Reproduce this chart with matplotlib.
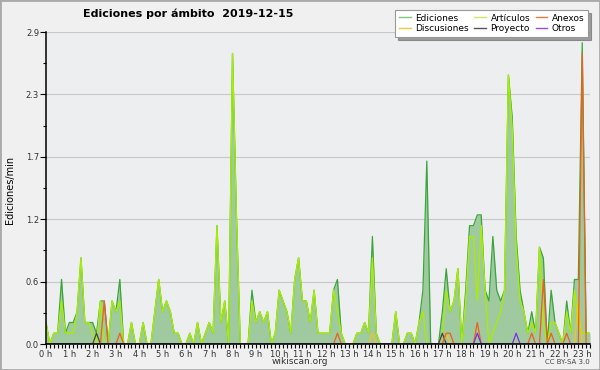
import numpy as np
import matplotlib.pyplot as plt
from matplotlib.lines import Line2D
from matplotlib.patches import Rectangle
from matplotlib.ticker import FixedLocator, MultipleLocator

# ediciones/min, un valor cada 10 minutos (141 intervalos)
ediciones = [0.2, 0.0, 0.1, 0.1, 0.6, 0.1, 0.2, 0.2, 0.3, 0.8,
             0.2, 0.2, 0.2, 0.1, 0.4, 0.4, 0.0, 0.4, 0.3, 0.6,
             0.0, 0.0, 0.2, 0.0, 0.0, 0.2, 0.0, 0.0, 0.3, 0.6,
             0.3, 0.4, 0.3, 0.1, 0.1, 0.0, 0.0, 0.1, 0.0, 0.2,
             0.0, 0.1, 0.2, 0.1, 1.1, 0.2, 0.4, 0.0, 2.7, 1.2,
             0.0, 0.0, 0.0, 0.5, 0.2, 0.3, 0.2, 0.3, 0.0, 0.1,
             0.5, 0.4, 0.3, 0.1, 0.6, 0.8, 0.4, 0.4, 0.2, 0.5,
             0.1, 0.1, 0.1, 0.1, 0.5, 0.6, 0.1, 0.0, 0.0, 0.0,
             0.1, 0.1, 0.2, 0.1, 1.0, 0.1, 0.0, 0.0, 0.0, 0.0,
             0.3, 0.0, 0.0, 0.1, 0.1, 0.0, 0.2, 0.5, 1.7, 0.0,
             0.0, 0.0, 0.3, 0.7, 0.3, 0.4, 0.7, 0.0, 0.5, 1.1,
             1.1, 1.2, 1.2, 0.5, 0.4, 1.0, 0.5, 0.4, 0.5, 2.5,
             2.1, 1.0, 0.5, 0.3, 0.1, 0.3, 0.1, 0.9, 0.8, 0.0,
             0.5, 0.2, 0.1, 0.0, 0.4, 0.1, 0.6, 0.6, 2.8, 0.1,
             0.1]
articulos = [0.2, 0.0, 0.1, 0.1, 0.4, 0.1, 0.1, 0.1, 0.3, 0.8,
             0.2, 0.2, 0.1, 0.0, 0.4, 0.0, 0.0, 0.4, 0.3, 0.4,
             0.0, 0.0, 0.2, 0.0, 0.0, 0.2, 0.0, 0.0, 0.3, 0.6,
             0.3, 0.4, 0.3, 0.1, 0.1, 0.0, 0.0, 0.1, 0.0, 0.2,
             0.0, 0.1, 0.2, 0.1, 1.1, 0.2, 0.4, 0.0, 2.7, 1.2,
             0.0, 0.0, 0.0, 0.4, 0.2, 0.3, 0.2, 0.3, 0.0, 0.1,
             0.5, 0.4, 0.3, 0.1, 0.6, 0.8, 0.4, 0.4, 0.2, 0.5,
             0.1, 0.1, 0.1, 0.1, 0.5, 0.3, 0.1, 0.0, 0.0, 0.0,
             0.1, 0.1, 0.2, 0.1, 0.8, 0.1, 0.0, 0.0, 0.0, 0.0,
             0.3, 0.0, 0.0, 0.1, 0.1, 0.0, 0.2, 0.3, 0.0, 0.0,
             0.0, 0.0, 0.1, 0.5, 0.3, 0.4, 0.7, 0.0, 0.4, 1.0,
             1.0, 0.4, 1.1, 0.5, 0.0, 0.1, 0.2, 0.3, 0.5, 2.5,
             2.0, 0.9, 0.4, 0.3, 0.1, 0.2, 0.1, 0.9, 0.2, 0.0,
             0.2, 0.2, 0.1, 0.0, 0.3, 0.1, 0.5, 0.2, 0.1, 0.1,
             0.1]
# series casi vacias: {intervalo: valor}
anexos = {15: 0.4, 19: 0.1, 75: 0.1, 103: 0.1, 104: 0.1, 111: 0.2,
          125: 0.1, 128: 0.6, 130: 0.1, 134: 0.1, 138: 2.7}
discusiones = {84: 0.1, 103: 0.1, 137: 0.4}
proyecto = {13: 0.1, 102: 0.1}
otros = {111: 0.1, 121: 0.1}

horas = list(range(24))
y_max = 2.9

n = len(ediciones)
t = np.arange(n) / 6.0


def completar(d):
    v = np.zeros(n)
    for k, val in d.items():
        v[k] = val
    return v


fig = plt.figure(figsize=(6, 3.7), dpi=100, facecolor='#f0f0f0')
ax = fig.add_axes([46 / 600, 1 - 344 / 370, 544 / 600, 312 / 370])
ax.set_facecolor('#edeef0')

ax.fill_between(t, ediciones, color='#9fc99f', lw=0, zorder=2)
ax.plot(t, ediciones, color='#3aa63a', lw=0.9, zorder=3)
ax.plot(t, articulos, color='#a8ec08', lw=1.0, zorder=4)
ax.plot(t, completar(discusiones), color='#f5c518', lw=0.9, zorder=5)
ax.plot(t, completar(proyecto), color='#444444', lw=0.9, zorder=5)
ax.plot(t, completar(anexos), color='#f06018', lw=0.9, zorder=6)
ax.plot(t, completar(otros), color='#7a2ee0', lw=0.9, zorder=6)

ax.set_xlim(0, t[-1])
ax.set_ylim(0, y_max)

yt = np.linspace(0, y_max, 6)
ax.yaxis.set_major_locator(FixedLocator(yt))
ax.yaxis.set_minor_locator(FixedLocator((yt[:-1] + yt[1:]) / 2))
ax.set_yticklabels(['%.1f' % v for v in yt])
ax.set_xticks(horas)
ax.set_xticklabels(['%d h' % h for h in horas])
ax.xaxis.set_minor_locator(MultipleLocator(1 / 6))

ax.tick_params(axis='both', which='both', direction='out', color='black',
               labelsize=6, labelcolor='#333333', width=0.8)
ax.tick_params(axis='y', which='major', length=4, pad=1)
ax.tick_params(axis='y', which='minor', length=2.5)
ax.tick_params(axis='x', which='both', length=3, pad=1)

ax.grid(axis='y', color='#c8c8c8', lw=0.8, zorder=1)
ax.set_axisbelow(True)
for s in ['top', 'right']:
    ax.spines[s].set_visible(False)
for s in ['left', 'bottom']:
    ax.spines[s].set_linewidth(1.1)
    ax.spines[s].set_zorder(10)

# leyenda
nombres = ['Ediciones', 'Discusiones', 'Artículos', 'Proyecto', 'Anexos', 'Otros']
colores = ['#80c880', '#f5c83a', '#c8ec60', '#555555', '#f07840', '#9050e8']
handles = [Line2D([], [], color=c, lw=1.0) for c in colores]
leg = fig.legend(handles, nombres, loc='upper right',
                 bbox_to_anchor=(588 / 600, 1 - 10 / 370), ncol=3, fontsize=6.5,
                 frameon=True, fancybox=False, shadow=True, edgecolor='#999999',
                 facecolor='white', framealpha=1, handlelength=1.3,
                 handletextpad=0.5, columnspacing=0.6, borderpad=0.4,
                 labelspacing=0.2, borderaxespad=0)
leg.get_frame().set_linewidth(0.8)

fig.text(188 / 600, 1 - 14 / 370, 'Ediciones por ámbito  2019-12-15',
         ha='center', va='center', fontsize=8, fontweight='bold')
fig.text(10 / 600, 1 - 190 / 370, 'Ediciones/min', rotation=90,
         ha='center', va='center', fontsize=7)
fig.text(300 / 600, 1 - 362 / 370, 'wikiscan.org', ha='center', va='center',
         fontsize=6.5, color='#333333')
fig.text(590 / 600, 1 - 362 / 370, 'CC BY-SA 3.0', ha='right', va='center',
         fontsize=5, color='#444444')

fig.patches.append(Rectangle((0, 0), 1, 1, transform=fig.transFigure,
                             fill=False, edgecolor='#aaaaaa', lw=2))

fig.savefig('out.png', dpi=100, facecolor=fig.get_facecolor())
